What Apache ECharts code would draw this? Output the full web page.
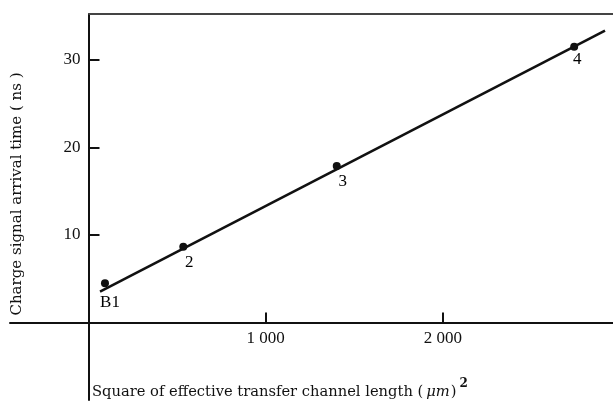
<!DOCTYPE html>
<html>
<head>
<meta charset="utf-8">
<script src="https://cdn.jsdelivr.net/npm/echarts@6/dist/echarts.min.js"></script>
<style>
html,body{margin:0;padding:0;background:#fff;}
#chart{width:613px;height:408px;}
</style>
</head>
<body>
<div id="chart"></div>
<script>
// Measured points (x: µm^2, y: ns)
const pointLabels = ['B1', '2', '3', '4'];
const pointX = [93, 535, 1401, 2741];
const pointY = [4.48, 8.66, 17.89, 31.52];
// Fitted straight line end points
const fitX = [65, 2915];
const fitY = [3.52, 33.35];
// Axis ticks
const xTicks = [1000, 2000];
const xTickLabels = ['1 000', '2 000'];
const yTicks = [10, 20, 30];
const yTickLabels = ['10', '20', '30'];
// Axis extents
const X_MIN = -443, X_MAX = 2960;
const Y_MIN = -8.86, Y_MAX = 35.26;

const FONT = '"Liberation Serif", "DejaVu Serif", serif';
const TFONT = '"DejaVu Serif", "Liberation Serif", serif';
const INK = '#111';

const chart = echarts.init(document.getElementById('chart'), null, {renderer: 'canvas'});

const labelOffsets = [[5, 19], [6, 16], [6, 16], [3, 13]];
const points = pointX.map((x, i) => ({
  value: [x, pointY[i]], name: pointLabels[i],
  label: {offset: labelOffsets[i]}
}));

chart.setOption({
  animation: false,
  backgroundColor: '#fff',
  grid: [
    {left: 88.5, right: 0, top: 14, bottom: 85.5, containLabel: false, outerBoundsMode: 'none'},
    {left: 10, right: 0, top: 14, bottom: 8, containLabel: false, outerBoundsMode: 'none'}
  ],
  xAxis: [
    {
      gridIndex: 0, type: 'value', min: 0, max: X_MAX,
      splitLine: {show: false},
      axisLine: {show: false},
      axisTick: {show: true, inside: true, length: 10, customValues: xTicks, lineStyle: {color: INK, width: 2}},
      axisLabel: {
        show: true, customValues: xTicks, margin: 8,
        formatter: v => xTickLabels[xTicks.indexOf(v)] || '',
        fontFamily: FONT, fontSize: 17, color: INK
      }
    },
    {
      gridIndex: 1, type: 'value', min: X_MIN, max: X_MAX,
      splitLine: {show: false},
      axisLine: {show: true, onZero: true, lineStyle: {color: INK, width: 2}},
      axisTick: {show: false}, axisLabel: {show: false}
    }
  ],
  yAxis: [
    {
      gridIndex: 0, type: 'value', min: 0, max: Y_MAX,
      splitLine: {show: false},
      axisLine: {show: false},
      axisTick: {show: true, inside: true, length: 11, customValues: yTicks, lineStyle: {color: INK, width: 2}},
      axisLabel: {
        show: true, customValues: yTicks, margin: 8,
        formatter: v => yTickLabels[yTicks.indexOf(v)] || '',
        fontFamily: FONT, fontSize: 17, color: INK
      }
    },
    {
      gridIndex: 1, type: 'value', min: Y_MIN, max: Y_MAX,
      splitLine: {show: false},
      axisLine: {show: true, onZero: true, lineStyle: {color: INK, width: 2}},
      axisTick: {show: false}, axisLabel: {show: false}
    }
  ],
  series: [
    {
      type: 'line',
      xAxisIndex: 0, yAxisIndex: 0,
      data: fitX.map((x, i) => [x, fitY[i]]),
      showSymbol: false,
      clip: false,
      lineStyle: {color: INK, width: 2.6},
      silent: true,
      z: 3,
      markLine: {
        silent: true,
        symbol: 'none',
        label: {show: false},
        lineStyle: {color: '#444', width: 2, type: 'solid'},
        data: [[{coord: [0, Y_MAX]}, {coord: [X_MAX, Y_MAX]}]]
      }
    },
    {
      type: 'scatter',
      xAxisIndex: 0, yAxisIndex: 0,
      data: points,
      symbol: 'circle',
      symbolSize: 8,
      clip: false,
      itemStyle: {color: INK, opacity: 1},
      z: 4,
      label: {
        show: true,
        position: 'inside',
        formatter: p => p.name,
        fontFamily: FONT, fontSize: 17, color: '#000', opacity: 1
      }
    }
  ],
  graphic: [
    {
      type: 'text',
      left: 92, top: 378,
      style: {
        text: '{t|Square of effective transfer channel length (}{mu|\u03bcm}{t|)}{sup|2}',
        rich: {
          t: {fontFamily: TFONT, fontSize: 14.7, fill: INK, verticalAlign: 'bottom', lineHeight: 22},
          mu: {fontFamily: TFONT, fontSize: 14.7, fontStyle: 'italic', fill: INK, verticalAlign: 'bottom', lineHeight: 22, padding: [0, 1, 0, 3]},
          sup: {fontFamily: TFONT, fontSize: 12, fontWeight: 'bold', fill: INK, verticalAlign: 'top', lineHeight: 22, padding: [0, 0, 0, 3]}
        }
      }
    },
    {
      type: 'text',
      x: 17, y: 194,
      rotation: Math.PI / 2,
      style: {
        text: 'Charge signal arrival time ( ns )',
        fontFamily: TFONT, fontSize: 15, fill: INK,
        align: 'center', verticalAlign: 'middle'
      }
    }
  ]
});
</script>
</body>
</html>
